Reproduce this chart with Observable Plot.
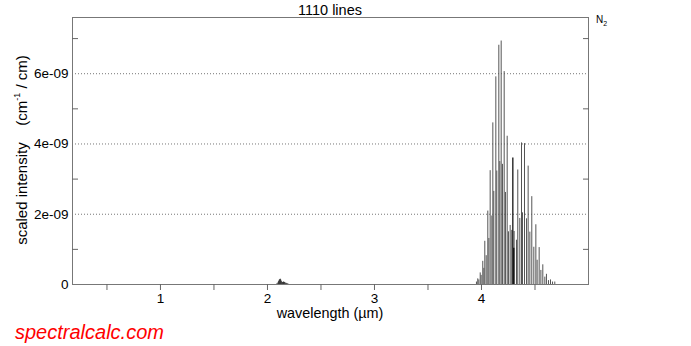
<!DOCTYPE html>
<html><head><meta charset="utf-8">
<script src="https://cdn.jsdelivr.net/npm/d3@7"></script>
<script src="https://cdn.jsdelivr.net/npm/@observablehq/plot@0.6"></script>
<style>body{margin:0;background:#fff;} svg{display:block;}</style>
</head><body><div id="chart"></div>
<script>
// ---- data ----
const titleText = "1110 lines";
const moleculeBase = "N", moleculeSub = "2";
const xLabelText = "wavelength (µm)";
const yLabelMain = "scaled intensity    (cm";
const yLabelSup = "-1";
const yLabelEnd = " / cm)";
const logoText = "spectralcalc.com";

const xDomain = [0.178, 5];
const yDomain = [0, 7.6e-9];
const xTickValues = [0.5, 1, 1.5, 2, 2.5, 3, 3.5, 4, 4.5];
const xTickLabels = ["", "1", "", "2", "", "3", "", "4", ""];
const yMajorValues = [0, 2e-9, 4e-9, 6e-9];
const yMajorLabels = ["0", "2e-09", "4e-09", "6e-09"];
const yGridValues = [2e-9, 4e-9, 6e-9];
const yMinorValues = [1e-9, 3e-9, 5e-9, 7e-9];

// fundamental band lines (µm, intensity)
const bandWl = [3.953,3.965,3.975,3.988,3.997,4.012,4.022,4.031,4.044,4.059,4.069,4.081,4.097,4.106,4.115,4.134,4.143,4.162,4.171,4.184,4.196,4.212,4.224,4.240,4.252,4.268,4.283,4.305,4.327,4.339,4.358,4.374,4.383,4.402,4.421,4.436,4.452,4.470,4.489,4.508,4.520,4.539,4.555,4.573,4.592,4.607,4.626,4.645,4.664,4.685];
const bandI = [0.07e-9,0.16e-9,0.13e-9,0.33e-9,0.26e-9,0.66e-9,0.46e-9,1.23e-9,0.82e-9,2.09e-9,1.31e-9,3.24e-9,1.95e-9,4.60e-9,2.65e-9,5.91e-9,3.23e-9,6.81e-9,3.50e-9,6.93e-9,3.42e-9,6.06e-9,2.62e-9,4.22e-9,1.50e-9,1.68e-9,1.54e-9,1.51e-9,1.26e-9,3.26e-9,1.88e-9,4.03e-9,2.04e-9,4.01e-9,1.87e-9,3.37e-9,1.49e-9,2.50e-9,1.06e-9,1.70e-9,0.69e-9,1.05e-9,0.40e-9,0.56e-9,0.21e-9,0.29e-9,0.11e-9,0.13e-9,0.07e-9,0.07e-9];
// Q-branch (piled-up lines)
const qWl = [4.293, 4.302];
const qI = [3.60e-9, 1.03e-9];
// overtone band near 2.1 µm
const overWl = [2.090,2.100,2.105,2.110,2.115,2.120,2.125,2.130,2.140,2.150,2.160,2.170,2.180,2.190];
const overI = [0.03e-9,0.06e-9,0.09e-9,0.12e-9,0.14e-9,0.15e-9,0.12e-9,0.08e-9,0.06e-9,0.07e-9,0.06e-9,0.04e-9,0.03e-9,0.02e-9];

const band = bandWl.map((w, i) => ({wl: w, i: bandI[i]}));
const qBranch = qWl.map((w, i) => ({wl: w, i: qI[i]}));
const overtone = overWl.map((w, i) => ({wl: w, i: overI[i]}));

const font = "'Liberation Sans', Arial, Helvetica, sans-serif";

const svg = Plot.plot({
  width: 691, height: 346,
  marginLeft: 72, marginRight: 103, marginTop: 17, marginBottom: 62,
  x: {domain: xDomain},
  y: {domain: yDomain},
  style: {fontFamily: font, background: "white", color: "black", fontSize: "13.5px"},
  marks: [
    Plot.gridY(yGridValues, {stroke: "#777", strokeOpacity: 1, strokeDasharray: "1,2"}),
    Plot.ruleX(overtone, {x: "wl", y1: 0, y2: "i", stroke: "#333", strokeWidth: 1}),
    Plot.ruleX(band, {x: "wl", y1: 0, y2: "i", stroke: "#555", strokeWidth: 1}),
    Plot.ruleX(qBranch, {x: "wl", y1: 0, y2: "i", stroke: "#000", strokeWidth: 1.2}),
    Plot.ruleY([0], {stroke: "#000"}),
    Plot.frame({stroke: "#777"}),
    Plot.axisX({ticks: xTickValues, tickSize: 6, tickPadding: 3, fontSize: 13.5,
      tickFormat: d => xTickLabels[xTickValues.indexOf(d)], stroke: "#666", label: null}),
    Plot.axisY({ticks: yMajorValues, tickSize: 0, tickPadding: 4, fontSize: 13.5,
      tickFormat: d => yMajorLabels[yMajorValues.indexOf(d)], label: null}),
    Plot.axisY({anchor: "left", ticks: yMinorValues, tickSize: 6, dx: 6, tickFormat: () => "", stroke: "#666", label: null}),
    Plot.axisY({anchor: "right", ticks: yMinorValues, tickSize: 6, dx: -6, tickFormat: () => "", stroke: "#666", label: null})
  ]
});

const s = d3.select(svg);
s.append("text").attr("x", 330).attr("y", 15).style("text-anchor", "middle")
  .style("font-family", font).style("font-size", "14.5px").text(titleText);

const n2 = s.append("text").attr("x", 596).attr("y", 23).style("text-anchor", "start")
  .style("font-family", font).style("font-size", "10px");
n2.append("tspan").text(moleculeBase);
n2.append("tspan").style("font-size", "7px").attr("dy", 3).text(moleculeSub);

s.append("text").attr("x", 330).attr("y", 318).style("text-anchor", "middle")
  .style("font-family", font).style("font-size", "14.4px").text(xLabelText);

const yl = s.append("text").attr("transform", "translate(27,150) rotate(-90)")
  .style("text-anchor", "middle").style("font-family", font).style("font-size", "15px")
  .style("white-space", "pre");
yl.append("tspan").text(yLabelMain);
yl.append("tspan").style("font-size", "9px").attr("dy", -7).text(yLabelSup);
yl.append("tspan").attr("dy", 7).text(yLabelEnd);

s.append("text").attr("x", 15).attr("y", 339).style("text-anchor", "start")
  .style("font-family", font).style("font-size", "20px").style("font-style", "italic")
  .style("fill", "#ff0000").text(logoText);

document.getElementById("chart").appendChild(svg);
</script>
</body></html>
